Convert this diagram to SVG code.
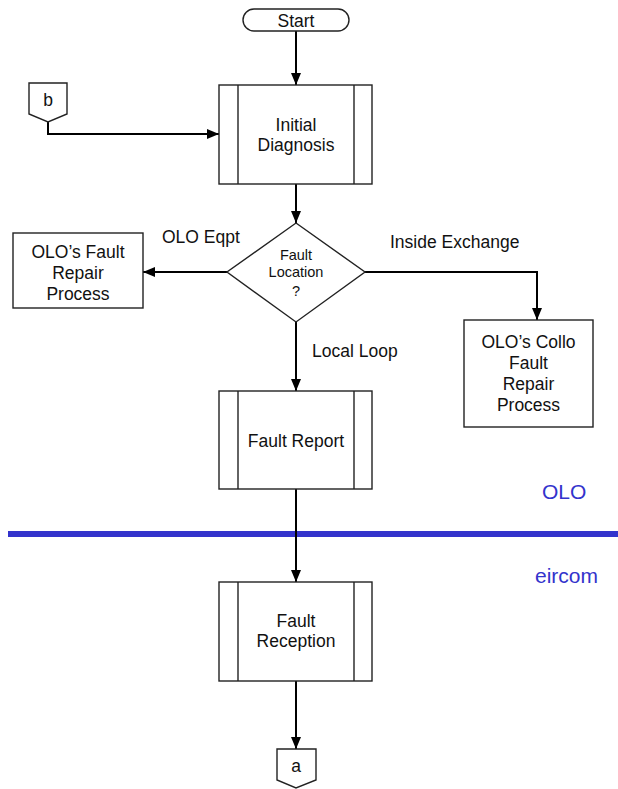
<svg xmlns="http://www.w3.org/2000/svg" width="618" height="789" viewBox="0 0 618 789">
  <defs>
    <marker id="arrow" markerUnits="userSpaceOnUse" markerWidth="12" markerHeight="12" viewBox="0 0 12 12" refX="12" refY="6" orient="auto">
      <path d="M0,1 L12,6 L0,11 Z" fill="#000"/>
    </marker>
  </defs>
  <style>
    .shape { fill: #fff; stroke: #222; stroke-width: 1.4; }
    .inner { stroke: #222; stroke-width: 1.4; }
    .wire { fill: none; stroke: #000; stroke-width: 2; }
    .lbl { font-family: "Liberation Sans", Arial, sans-serif; font-size: 17.5px; fill: #111; }
    .mid { text-anchor: middle; }
    .small { font-size: 14.5px; }
    .zone { font-family: "Liberation Sans", Arial, sans-serif; font-size: 21px; fill: #3333CC; }
  </style>
  <rect width="618" height="789" fill="#fff"/>

  <!-- swimlane divider -->
  <line x1="8" y1="534" x2="618" y2="534" stroke="#3333CC" stroke-width="6"/>
  <text class="zone" x="542" y="499">OLO</text>
  <text class="zone" x="535" y="583">eircom</text>

  <!-- connectors -->
  <g id="connectors">
    <line class="wire" x1="296" y1="31" x2="296" y2="85" marker-end="url(#arrow)"/>
    <polyline class="wire" points="48,122 48,134 219,134" marker-end="url(#arrow)"/>
    <line class="wire" x1="296" y1="184" x2="296" y2="223" marker-end="url(#arrow)"/>
    <line class="wire" x1="227" y1="272" x2="143" y2="272" marker-end="url(#arrow)"/>
    <polyline class="wire" points="365,272 537,272 537,320" marker-end="url(#arrow)"/>
    <line class="wire" x1="296" y1="322" x2="296" y2="391" marker-end="url(#arrow)"/>
    <line class="wire" x1="296" y1="489" x2="296" y2="582" marker-end="url(#arrow)"/>
    <line class="wire" x1="296" y1="681" x2="296" y2="749" marker-end="url(#arrow)"/>
    <text class="lbl" x="162" y="243">OLO Eqpt</text>
    <text class="lbl" x="390" y="248">Inside Exchange</text>
    <text class="lbl" x="312" y="357">Local Loop</text>
  </g>

  <g id="start">
    <rect class="shape" x="243" y="9" width="106" height="22" rx="11" ry="11"/>
    <text class="lbl mid" x="296" y="27">Start</text>
  </g>

  <g id="connector-b">
    <path class="shape" d="M29,83 H67 V114 L48,122 L29,114 Z"/>
    <text class="lbl mid" x="48" y="106">b</text>
  </g>

  <g id="initial-diagnosis">
    <rect class="shape" x="219" y="85" width="153" height="99"/>
    <line class="inner" x1="238" y1="85" x2="238" y2="184"/>
    <line class="inner" x1="354" y1="85" x2="354" y2="184"/>
    <text class="lbl mid" x="296" y="131">Initial</text>
    <text class="lbl mid" x="296" y="151">Diagnosis</text>
  </g>

  <g id="fault-location">
    <path class="shape" d="M296,223 L365,272 L296,322 L227,272 Z"/>
    <text class="lbl mid small" x="296" y="260">Fault</text>
    <text class="lbl mid small" x="296" y="277">Location</text>
    <text class="lbl mid small" x="296" y="296">?</text>
  </g>

  <g id="olo-fault-repair">
    <rect class="shape" x="13" y="233" width="130" height="75"/>
    <text class="lbl mid" x="78" y="258">OLO’s Fault</text>
    <text class="lbl mid" x="78" y="279">Repair</text>
    <text class="lbl mid" x="78" y="300">Process</text>
  </g>

  <g id="olo-collo-repair">
    <rect class="shape" x="464" y="320" width="129" height="107"/>
    <text class="lbl mid" x="528.5" y="348">OLO’s Collo</text>
    <text class="lbl mid" x="528.5" y="369">Fault</text>
    <text class="lbl mid" x="528.5" y="390">Repair</text>
    <text class="lbl mid" x="528.5" y="411">Process</text>
  </g>

  <g id="fault-report">
    <rect class="shape" x="219" y="391" width="153" height="98"/>
    <line class="inner" x1="238" y1="391" x2="238" y2="489"/>
    <line class="inner" x1="354" y1="391" x2="354" y2="489"/>
    <text class="lbl mid" x="296" y="447">Fault Report</text>
  </g>

  <g id="fault-reception">
    <rect class="shape" x="219" y="582" width="153" height="99"/>
    <line class="inner" x1="238" y1="582" x2="238" y2="681"/>
    <line class="inner" x1="354" y1="582" x2="354" y2="681"/>
    <text class="lbl mid" x="296" y="627">Fault</text>
    <text class="lbl mid" x="296" y="647">Reception</text>
  </g>

  <g id="connector-a">
    <path class="shape" d="M277,749 H316 V780 L296,788 L277,780 Z"/>
    <text class="lbl mid" x="296" y="772">a</text>
  </g>
</svg>
